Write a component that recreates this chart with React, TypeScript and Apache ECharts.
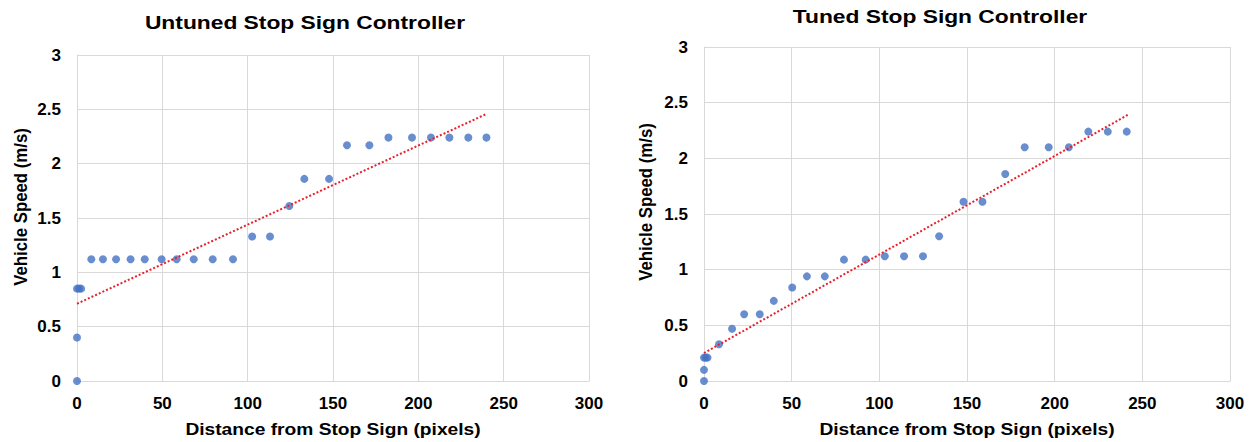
import React, { useEffect, useRef } from "react";
import * as echarts from "echarts";

// Untuned controller: distance (pixels) vs speed (m/s)
const untunedDistance = [0, 0, 0, 1.2, 2.4, 8.4, 15.2, 22.9, 31.4, 39.7, 49.6, 58.4, 68.4, 79.5, 91.4, 102.6, 113.1, 124.4, 133.2, 147.7, 158.2, 171.3, 182.5, 196.3, 207.4, 218.2, 229.3, 239.9];
const untunedSpeed = [0, 0.4, 0.85, 0.85, 0.85, 1.12, 1.12, 1.12, 1.12, 1.12, 1.12, 1.12, 1.12, 1.12, 1.12, 1.33, 1.33, 1.61, 1.86, 1.86, 2.17, 2.17, 2.24, 2.24, 2.24, 2.24, 2.24, 2.24];
const untunedTrendX = [0, 239.3];
const untunedTrendY = [0.711, 2.453];

// Tuned controller
const tunedDistance = [0, 0, 0, 1, 2, 8.6, 16, 22.9, 31.8, 39.8, 50.3, 58.7, 68.9, 79.8, 92.2, 103.1, 114.1, 124.9, 134.1, 148, 158.8, 171.8, 182.9, 196.6, 208.1, 219.2, 230.3, 241.1];
const tunedSpeed = [0, 0.1, 0.21, 0.21, 0.21, 0.33, 0.47, 0.6, 0.6, 0.72, 0.84, 0.94, 0.94, 1.09, 1.09, 1.12, 1.12, 1.12, 1.3, 1.61, 1.61, 1.86, 2.1, 2.1, 2.1, 2.24, 2.24, 2.24];
const tunedTrendX = [0, 241.7];
const tunedTrendY = [0.251, 2.39];

const titles = ["Untuned Stop Sign Controller", "Tuned Stop Sign Controller"];
const xAxisName = "Distance from Stop Sign (pixels)";
const yAxisName = "Vehicle Speed (m/s)";

const FONT = "'Liberation Sans', Arial, sans-serif";
const GRID_COLOR = "#d9d9d9";
const POINT_COLOR = "#4472C4";
const TREND_COLOR = "#E8202A";

function zip(xs: number[], ys: number[]) {
  return xs.map((x, i) => [x, ys[i]]);
}

export default function App() {
  const ref = useRef<HTMLDivElement>(null);
  useEffect(() => {
    document.body.style.margin = "0";
    if (!ref.current) return;
    const chart = echarts.init(ref.current, undefined, { renderer: "svg" });
    const grids = [
      { left: 77, top: 55, width: 512, height: 326 },
      { left: 704, top: 47, width: 526, height: 334 },
    ];
    const labelStyle = { color: "#000", fontFamily: FONT, fontWeight: "bold", fontSize: 17 };
    const xAxis = grids.map((_, i) => ({
      type: "value",
      gridIndex: i,
      min: 0,
      max: 300,
      interval: 50,
      axisLine: { show: true, lineStyle: { color: GRID_COLOR, width: 1 } },
      axisTick: { show: false },
      splitLine: { show: true, lineStyle: { color: GRID_COLOR, width: 1 } },
      axisLabel: { ...labelStyle, margin: 14 },
    }));
    const yAxis = grids.map((_, i) => ({
      type: "value",
      gridIndex: i,
      min: 0,
      max: 3,
      interval: 0.5,
      axisLine: { show: true, lineStyle: { color: GRID_COLOR, width: 1 } },
      axisTick: { show: false },
      splitLine: { show: true, lineStyle: { color: GRID_COLOR, width: 1 } },
      axisLabel: { ...labelStyle, margin: 16 },
    }));
    const scatterStyle = { color: POINT_COLOR };
    const trendStyle = { color: TREND_COLOR, width: 2, type: "dotted" };
    const textEl = (text: string, x: number, y: number, size: number, rotation: number, scaleX: number, scaleY: number) => ({
      type: "text",
      x,
      y,
      rotation,
      scaleX,
      scaleY,
      style: { text, fill: "#000", font: `bold ${size}px ${FONT}`, textAlign: "center", textVerticalAlign: "middle" },
    });
    chart.setOption({
      animation: false,
      grid: grids,
      xAxis,
      yAxis,
      graphic: [
        textEl(titles[0], 305, 22, 19, 0, 1.2, 1),
        textEl(titles[1], 940, 16, 19, 0, 1.2, 1),
        textEl(yAxisName, 21, 207, 16, Math.PI / 2, 1.05, 1.15),
        textEl(yAxisName, 646, 202, 16, Math.PI / 2, 1.05, 1.15),
        textEl(xAxisName, 333, 430, 16, 0, 1.2, 1),
        textEl(xAxisName, 967, 430, 16, 0, 1.2, 1),
      ],
      series: [
        { type: "line", xAxisIndex: 0, yAxisIndex: 0, data: zip(untunedTrendX, untunedTrendY), symbol: "none", lineStyle: trendStyle, z: 3 },
        { type: "scatter", xAxisIndex: 0, yAxisIndex: 0, data: zip(untunedDistance, untunedSpeed), symbolSize: 8, itemStyle: scatterStyle, z: 2 },
        { type: "line", xAxisIndex: 1, yAxisIndex: 1, data: zip(tunedTrendX, tunedTrendY), symbol: "none", lineStyle: trendStyle, z: 3 },
        { type: "scatter", xAxisIndex: 1, yAxisIndex: 1, data: zip(tunedDistance, tunedSpeed), symbolSize: 8, itemStyle: scatterStyle, z: 2 },
      ],
    });
    return () => chart.dispose();
  }, []);
  return <div ref={ref} style={{ width: 1256, height: 442 }} />;
}
